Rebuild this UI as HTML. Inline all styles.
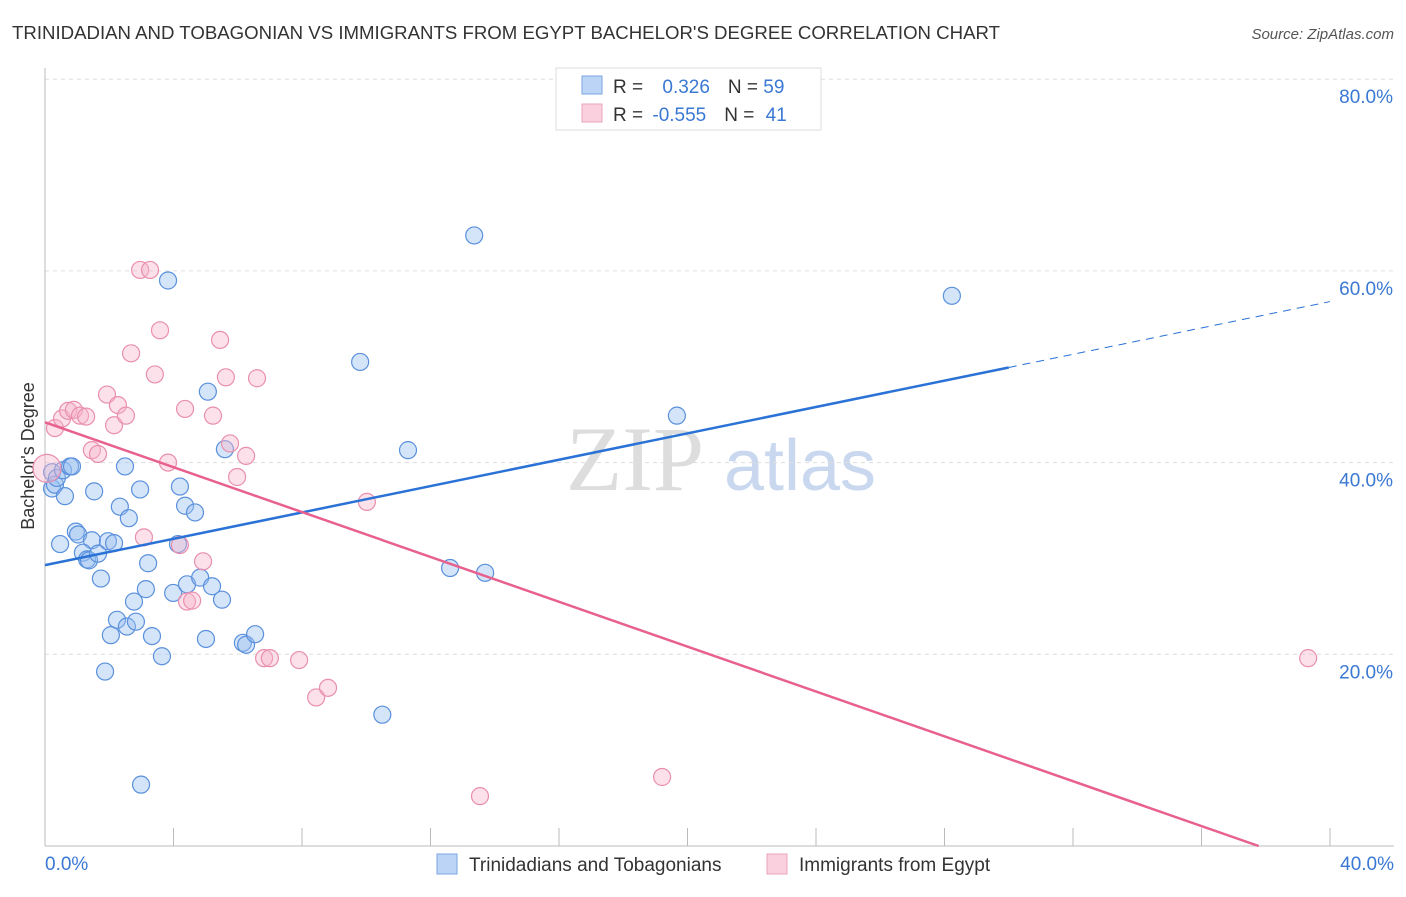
<!DOCTYPE html>
<html><head><meta charset="utf-8"><style>
body{margin:0;background:#fff;font-family:"Liberation Sans",sans-serif;}
</style></head><body>
<svg id="c" width="1406" height="892" xmlns="http://www.w3.org/2000/svg" style="font-family:'Liberation Sans',sans-serif">
<text x="12" y="39" font-size="18" fill="#333" textLength="988" lengthAdjust="spacingAndGlyphs">TRINIDADIAN AND TOBAGONIAN VS IMMIGRANTS FROM EGYPT BACHELOR'S DEGREE CORRELATION CHART</text>
<text x="1394" y="39" font-size="15" fill="#555" text-anchor="end" font-style="italic">Source: ZipAtlas.com</text>
<text x="34" y="456" font-size="18" fill="#333" text-anchor="middle" transform="rotate(-90 34 456)">Bachelor's Degree</text>
<g><text x="635" y="490" font-size="92" fill="#ddd" font-family="Liberation Serif,serif" text-anchor="middle">ZIP</text><text x="800" y="490" font-size="72" fill="#c9d8ef" text-anchor="middle">atlas</text></g>
<g id="grid"></g><g id="axes"></g><g id="pts"></g><g id="lines"></g>
<g>
<rect x="556" y="68" width="265" height="62" fill="#fff" stroke="#ddd"/>
<rect x="582" y="76" width="20" height="18" fill="#bcd4f6" stroke="#7aa6e0"/>
<rect x="582" y="104" width="20" height="18" fill="#fbd0de" stroke="#eba3bb"/>
<text x="613" y="93" font-size="19" fill="#333">R = <tspan fill="#3a78d4" dx="14">0.326</tspan><tspan dx="18">N = </tspan><tspan fill="#3a78d4">59</tspan></text>
<text x="613" y="121" font-size="19" fill="#333">R = <tspan fill="#3a78d4" dx="4">-0.555</tspan><tspan dx="18">N = </tspan><tspan fill="#3a78d4" dx="6">41</tspan></text>
</g>
<g>
<rect x="437" y="854" width="20" height="20" fill="#bcd4f6" stroke="#7aa6e0"/>
<text x="469" y="871" font-size="19" fill="#333">Trinidadians and Tobagonians</text>
<rect x="767" y="854" width="20" height="20" fill="#fbd0de" stroke="#eba3bb"/>
<text x="799" y="871" font-size="19" fill="#333">Immigrants from Egypt</text>
</g>
</svg>
<script>
const blueX=[0.22,0.22,0.31,0.37,0.56,0.62,0.78,0.84,0.47,0.96,1.03,1.53,1.46,1.18,1.31,1.37,1.65,1.74,1.87,1.96,2.15,2.05,2.24,2.49,2.33,2.61,2.55,2.77,2.83,2.96,2.99,3.21,3.14,3.33,3.64,3.83,3.99,4.14,4.20,4.36,4.42,4.67,4.83,5.01,5.07,5.20,5.51,5.60,6.16,6.26,6.54,9.81,10.50,11.30,12.61,13.36,13.70,19.67,28.23];
const blueY=[39.0,37.3,37.7,38.4,39.2,36.5,39.6,39.6,31.5,32.8,32.5,37.0,31.9,30.6,29.9,29.8,30.5,27.9,18.2,31.8,31.6,22.0,23.6,39.6,35.4,34.2,22.9,25.5,23.4,37.2,6.4,29.5,26.8,21.9,19.8,59.0,26.4,31.5,37.5,35.5,27.3,34.8,28.0,21.6,47.4,27.1,25.7,41.4,21.2,21.0,22.1,50.5,13.7,41.3,29.0,63.7,28.5,44.9,57.4];
const pinkX=[0.06,0.31,0.53,0.72,0.90,1.09,1.28,1.46,1.65,1.93,2.15,2.27,2.52,2.68,2.96,3.08,3.27,3.42,3.58,3.83,4.20,4.36,4.42,4.58,4.92,5.23,5.45,5.63,5.76,5.98,6.26,6.60,6.82,7.00,7.91,8.44,8.81,10.02,13.54,19.21,39.32];
const pinkY=[39.4,43.6,44.6,45.4,45.5,44.9,44.8,41.3,40.9,47.1,43.9,46.0,44.9,51.4,60.1,32.2,60.1,49.2,53.8,40.0,31.4,45.6,25.5,25.6,29.7,44.9,52.8,48.9,42.0,38.5,40.7,48.8,19.6,19.6,19.4,15.5,16.5,35.9,5.2,7.2,19.6];
const yTicks=[20,40,60,80];
const xTickLabels=["0.0%","40.0%"];
const blueTrend=[29.3,56.8];
const pinkTrend=[44.2,-2.6];
const X=v=>45+v*(1285/40), Y=v=>846-v*(191.7/20);
const NS="http://www.w3.org/2000/svg";
function mk(t,a,p){const e=document.createElementNS(NS,t);for(const k in a)e.setAttribute(k,a[k]);p.appendChild(e);return e;}
const grid=document.getElementById('grid'),axes=document.getElementById('axes'),pts=document.getElementById('pts'),lines=document.getElementById('lines');
yTicks.forEach(v=>{const l=mk('line',{x1:45,x2:1394,y1:Y(v),y2:Y(v),stroke:'#ddd','stroke-dasharray':'4,4'},grid);


const t=mk('text',{x:1393,y:Y(v)+24,'font-size':19,fill:'#3a78d4','text-anchor':'end'},axes);t.textContent=v.toFixed(1)+'%';

});
const ya=mk('line',{x1:45,x2:45,y1:68,y2:846,stroke:'#bbb'},axes);


const xa=mk('line',{x1:45,x2:1394,y1:846,y2:846,stroke:'#bbb'},axes);


for(let v=4;v<=40;v+=4){const t=mk('line',{x1:X(v),x2:X(v),y1:828,y2:846,stroke:'#bbb'},axes);

}
[[0,xTickLabels[0],'start',45],[40,xTickLabels[1],'end',1394]].forEach(d=>{const t=mk('text',{x:d[3],y:870,'font-size':19,fill:'#3a78d4','text-anchor':d[2]},axes);t.textContent=d[1];

});
blueX.forEach((x,i)=>{const c=mk('circle',{cx:X(x),cy:Y(blueY[i]),r:8.5,fill:'rgba(150,190,240,0.4)',stroke:'#5a90dc','stroke-width':1.2},pts);

});
pinkX.forEach((x,i)=>{const c=mk('circle',{cx:X(x),cy:Y(pinkY[i]),r:i==0?14:8.5,fill:'rgba(248,180,202,0.4)',stroke:'#e98fae','stroke-width':1.2},pts);

});
const bAt=x=>blueTrend[0]+(blueTrend[1]-blueTrend[0])*x/40;
const b1=mk('line',{x1:X(0),y1:Y(bAt(0)),x2:X(30),y2:Y(bAt(30)),stroke:'#2a72d6','stroke-width':2.5},lines);


const b2=mk('line',{x1:X(30),y1:Y(bAt(30)),x2:X(40),y2:Y(bAt(40)),stroke:'#2a72d6','stroke-width':1,'stroke-dasharray':'8,6'},lines);


const pAt=x=>pinkTrend[0]+(pinkTrend[1]-pinkTrend[0])*x/40;
const xz=-pinkTrend[0]*40/(pinkTrend[1]-pinkTrend[0]);
const p1=mk('line',{x1:X(0),y1:Y(pAt(0)),x2:X(xz),y2:Y(0),stroke:'#e8608e','stroke-width':2.5},lines);


</script>
</body></html>
